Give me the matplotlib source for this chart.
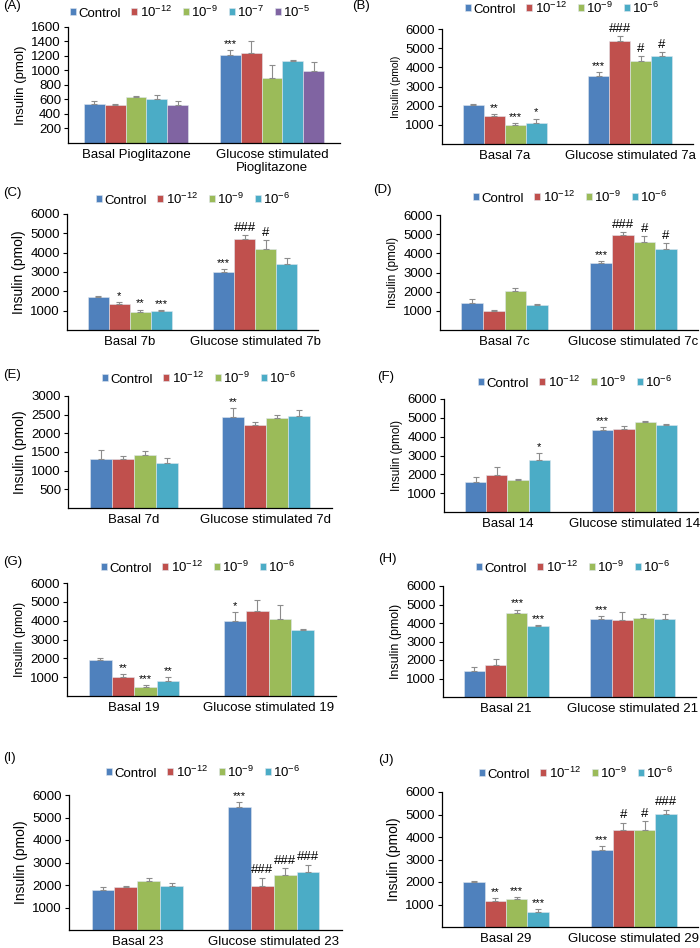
import matplotlib.pyplot as plt
import numpy as np

plt.rcParams['font.family'] = ['Liberation Sans', 'DejaVu Sans']
plt.rcParams['mathtext.fontset'] = 'custom'
plt.rcParams['mathtext.rm'] = 'Liberation Sans'
plt.rcParams['mathtext.it'] = 'Liberation Sans:italic'

# Series names and colours
series_5 = ['Control', '10$^{-12}$', '10$^{-9}$', '10$^{-7}$', '10$^{-5}$']
series_4 = ['Control', '10$^{-12}$', '10$^{-9}$', '10$^{-6}$']
colors = ['#4F81BD', '#C0504D', '#9BBB59', '#4BACC6', '#8064A2']

# Panel data: [basal values, glucose stimulated values]
A_groups = ['Basal Pioglitazone', 'Glucose stimulated\nPioglitazone']
A_mean = [[540, 520, 640, 600, 520], [1220, 1240, 900, 1130, 990]]
A_err = [[40, 15, 10, 60, 60], [60, 160, 170, 15, 130]]
A_sig = [['', '', '', '', ''], ['***', '', '', '', '']]

B_groups = ['Basal 7a', 'Glucose stimulated 7a']
B_mean = [[2050, 1450, 1000, 1120], [3570, 5400, 4330, 4570]]
B_err = [[50, 100, 100, 200], [200, 250, 250, 220]]
B_sig = [['', '**', '***', '*'], ['***', '###', '#', '#']]

C_groups = ['Basal 7b', 'Glucose stimulated 7b']
C_mean = [[1700, 1350, 950, 1000], [3000, 4700, 4200, 3420]]
C_err = [[50, 80, 100, 30], [150, 200, 450, 300]]
C_sig = [['', '*', '**', '***'], ['***', '###', '#', '']]

D_groups = ['Basal 7c', 'Glucose stimulated 7c']
D_mean = [[1420, 980, 2030, 1280], [3470, 4950, 4600, 4250]]
D_err = [[180, 50, 150, 60], [130, 150, 300, 280]]
D_sig = [['', '', '', ''], ['***', '###', '#', '#']]

E_groups = ['Basal 7d', 'Glucose stimulated 7d']
E_mean = [[1300, 1300, 1430, 1200], [2430, 2220, 2400, 2470]]
E_err = [[250, 80, 110, 150], [250, 90, 90, 150]]
E_sig = [['', '', '', ''], ['**', '', '', '']]

F_groups = ['Basal 14', 'Glucose stimulated 14']
F_mean = [[1570, 1980, 1680, 2780], [4350, 4430, 4790, 4600]]
F_err = [[270, 400, 50, 330], [150, 150, 30, 80]]
F_sig = [['', '', '', '*'], ['***', '', '', '']]

G_groups = ['Basal 19', 'Glucose stimulated 19']
G_mean = [[1920, 1000, 500, 800], [4000, 4500, 4080, 3500]]
G_err = [[80, 150, 80, 200], [450, 600, 750, 50]]
G_sig = [['', '**', '***', '**'], ['*', '', '', '']]

H_groups = ['Basal 21', 'Glucose stimulated 21']
H_mean = [[1380, 1730, 4520, 3830], [4230, 4170, 4250, 4230]]
H_err = [[250, 300, 200, 60], [150, 430, 250, 280]]
H_sig = [['', '', '***', '***'], ['***', '', '', '']]

I_groups = ['Basal 23', 'Glucose stimulated 23']
I_mean = [[1800, 1900, 2200, 1950], [5480, 1970, 2450, 2600]]
I_err = [[90, 40, 100, 140], [200, 350, 300, 300]]
I_sig = [['', '', '', ''], ['***', '###', '###', '###']]

J_groups = ['Basal 29', 'Glucose stimulated 29']
J_mean = [[1980, 1150, 1250, 650], [3420, 4330, 4320, 5020]]
J_err = [[50, 130, 70, 130], [180, 300, 380, 200]]
J_sig = [['', '**', '***', '***'], ['***', '#', '#', '###']]

W, H = 700, 948
fig = plt.figure(figsize=(W / 100, H / 100), dpi=100)

# label, data, names, ymax, ystep, group width, axes box px (l, r, top, bottom),
# legend centre px, label pos px, ylabel size
panels = [
    ('(A)', A_groups, A_mean, A_err, A_sig, series_5, 1600, 200, 0.77,
     (68, 340, 27, 143), (190, 12), (3, 6), 9.5),
    ('(B)', B_groups, B_mean, B_err, B_sig, series_4, 6000, 1000, 0.67,
     (442, 693, 29, 144), (562, 8), (352, 6), 7.5),
    ('(C)', C_groups, C_mean, C_err, C_sig, series_4, 6000, 1000, 0.67,
     (67, 318, 214, 330), (193, 199), (3, 193), 10),
    ('(D)', D_groups, D_mean, D_err, D_sig, series_4, 6000, 1000, 0.67,
     (440, 698, 215, 330), (570, 197), (373, 190), 8.5),
    ('(E)', E_groups, E_mean, E_err, E_sig, series_4, 3000, 500, 0.67,
     (68, 332, 396, 508), (199, 378), (3, 375), 10),
    ('(F)', F_groups, F_mean, F_err, F_sig, series_4, 6000, 1000, 0.67,
     (444, 698, 399, 512), (575, 382), (377, 377), 8.5),
    ('(G)', G_groups, G_mean, G_err, G_sig, series_4, 6000, 1000, 0.67,
     (67, 336, 583, 696), (198, 567), (3, 562), 9),
    ('(H)', H_groups, H_mean, H_err, H_sig, series_4, 6000, 1000, 0.67,
     (443, 696, 586, 697), (573, 567), (378, 559), 9),
    ('(I)', I_groups, I_mean, I_err, I_sig, series_4, 6000, 1000, 0.67,
     (69, 342, 795, 930), (203, 772), (3, 758), 10),
    ('(J)', J_groups, J_mean, J_err, J_sig, series_4, 6000, 1000, 0.67,
     (442, 698, 792, 927), (576, 773), (378, 760), 10),
]

for (tag, groups, mean, err, sig, names, ymax, ystep, gw,
     box, leg, lab, ylsize) in panels:
    l, r, t, b = box
    ax = fig.add_axes([l / W, 1 - b / H, (r - l) / W, (b - t) / H])
    n = len(names)
    x = np.arange(len(groups))
    w = gw / n
    for i in range(n):
        xs = x - gw / 2 + w * (i + 0.5)
        vals = np.array([mean[g][i] for g in range(len(groups))])
        errs = np.array([err[g][i] for g in range(len(groups))])
        ax.bar(xs, vals, w, color=colors[i], edgecolor='#dfe6ee',
               linewidth=0.4, label=names[i], zorder=2)
        ax.errorbar(xs, vals, yerr=[np.zeros_like(errs), errs], fmt='none',
                    ecolor='#8c8c8c', elinewidth=0.8, capsize=2,
                    capthick=0.8, zorder=3)
        for g in range(len(groups)):
            s = sig[g][i]
            if s:
                fs = 9.5 if '#' in s else 8
                ax.text(xs[g], vals[g] + errs[g] + ymax * 0.01, s,
                        ha='center', va='bottom', fontsize=fs, zorder=4)

    ax.set_xlim(-0.5, 1.5)
    ax.set_ylim(0, ymax)
    ax.set_yticks(np.arange(ystep, ymax + 1, ystep))
    ax.set_xticks(x)
    ax.set_xticklabels(groups, fontsize=9.5)
    ax.tick_params(axis='x', length=0, pad=4)
    ax.tick_params(axis='y', labelsize=9.5, length=3, width=0.8, pad=2)
    ax.spines['top'].set_visible(False)
    ax.spines['right'].set_visible(False)
    ax.spines['left'].set_linewidth(0.9)
    ax.spines['bottom'].set_linewidth(0.9)
    ax.set_ylabel('Insulin (pmol)', fontsize=ylsize, labelpad=3)

    fig.legend(*ax.get_legend_handles_labels(), loc='center',
               bbox_to_anchor=(leg[0] / W, 1 - leg[1] / H), ncol=n,
               frameon=False, fontsize=9.5, handlelength=0.45,
               handleheight=0.45, handletextpad=0.2, columnspacing=0.8)
    fig.text(lab[0] / W, 1 - lab[1] / H, tag, fontsize=9.5, va='center')

plt.savefig('out.png', dpi=100)
